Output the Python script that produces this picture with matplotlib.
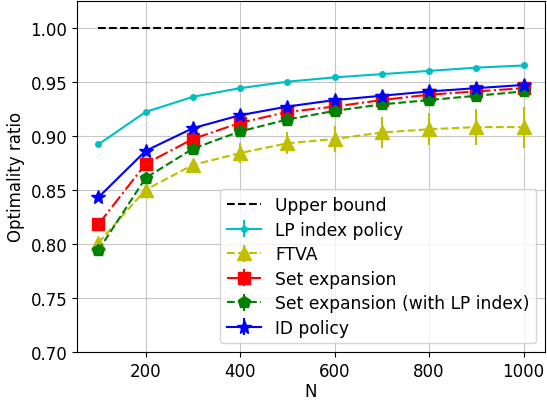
import matplotlib.pyplot as plt

N = [100, 200, 300, 400, 500, 600, 700, 800, 900, 1000]

lp_index = [0.892, 0.922, 0.936, 0.944, 0.950, 0.954, 0.957, 0.960, 0.963, 0.965]
lp_index_err = [0.001, 0.001, 0.001, 0.001, 0.001, 0.001, 0.001, 0.001, 0.001, 0.001]

ftva = [0.801, 0.850, 0.873, 0.884, 0.893, 0.897, 0.903, 0.906, 0.908, 0.908]
ftva_err = [0.003, 0.004, 0.005, 0.009, 0.010, 0.012, 0.014, 0.015, 0.017, 0.019]

set_exp = [0.818, 0.874, 0.897, 0.912, 0.922, 0.927, 0.933, 0.938, 0.941, 0.944]
set_exp_err = [0.002, 0.002, 0.002, 0.002, 0.002, 0.002, 0.002, 0.002, 0.002, 0.002]

set_exp_lp = [0.794, 0.861, 0.888, 0.904, 0.915, 0.923, 0.929, 0.933, 0.937, 0.941]
set_exp_lp_err = [0.002, 0.002, 0.002, 0.002, 0.002, 0.002, 0.002, 0.002, 0.002, 0.002]

id_policy = [0.843, 0.886, 0.907, 0.919, 0.927, 0.933, 0.937, 0.941, 0.944, 0.947]
id_policy_err = [0.001, 0.001, 0.001, 0.001, 0.001, 0.001, 0.001, 0.001, 0.001, 0.001]

plt.rcParams['font.size'] = 12

fig = plt.figure(figsize=(5.47, 4.02), dpi=100)
ax = fig.add_subplot(111)
fig.subplots_adjust(left=0.141, right=0.996, bottom=0.122, top=0.996)

ax.plot(N, [1.0] * len(N), 'k--', label='Upper bound')
ax.errorbar(N, lp_index, yerr=lp_index_err, fmt='c.-', markersize=8, label='LP index policy')
ax.errorbar(N, ftva, yerr=ftva_err, fmt='y^--', markersize=10, label='FTVA')
ax.errorbar(N, set_exp, yerr=set_exp_err, fmt='rs-.', markersize=9, label='Set expansion')
ax.errorbar(N, set_exp_lp, yerr=set_exp_lp_err, fmt='gp--', markersize=9,
            label='Set expansion (with LP index)')
ax.errorbar(N, id_policy, yerr=id_policy_err, fmt='b*-', markersize=10, label='ID policy')

ax.set_ylim(0.7, 1.025)
ax.set_xlabel('N', labelpad=1.5)
ax.set_ylabel('Optimality ratio')
ax.grid(True, color='#b0b0b0', alpha=0.7)
ax.legend(loc='lower right', fontsize=12.3, labelspacing=0.38)

plt.savefig('out.png')
